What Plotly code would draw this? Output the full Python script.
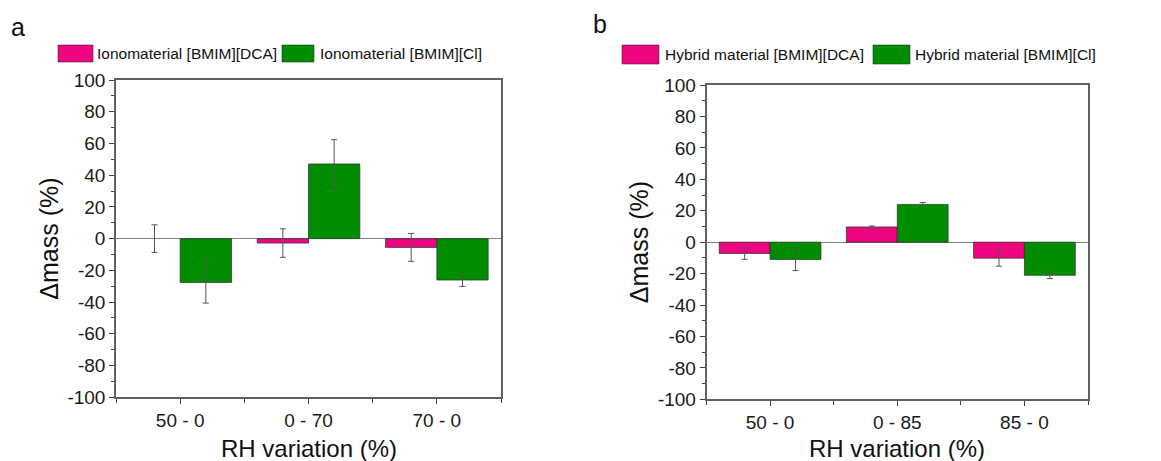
import plotly.graph_objects as go

# ---- data ----
categories_a = ["50 - 0", "0 - 70", "70 - 0"]
categories_b = ["50 - 0", "0 - 85", "85 - 0"]

series_a_names = ["Ionomaterial [BMIM][DCA]", "Ionomaterial [BMIM][Cl]"]
dca_a = [0.0, -2.8, -5.5]
dca_a_err = [8.7, 9.0, 8.8]
cl_a = [-27.6, 47.1, -26.1]
cl_a_err = [13.0, 15.3, 4.0]

series_b_names = ["Hybrid material [BMIM][DCA]", "Hybrid material [BMIM][Cl]"]
dca_b = [-7.2, 9.7, -10.2]
dca_b_err = [3.7, 0.6, 5.1]
cl_b = [-11.0, 24.0, -21.1]
cl_b_err = [7.1, 1.2, 2.1]

y_ticks = [-100, -80, -60, -40, -20, 0, 20, 40, 60, 80, 100]

PINK = "#EE0582"
GREEN = "#008E00"
FONT = "Liberation Sans, Arial, sans-serif"
W, H = 1161, 461
OFF = 8  # page body margin offset

fig = go.Figure()

def add_bars(xref, yref, cats, vals, errs, name, color):
    fig.add_trace(go.Bar(
        x=list(range(len(cats))), y=vals, name=name,
        marker=dict(color=color,
                    line=dict(color="rgba(40,40,40,0.85)",
                              width=[0 if v == 0 else 0.8 for v in vals])),
        error_y=dict(type="data", array=errs, visible=True, color="#555555", thickness=1, width=3),
        xaxis=xref, yaxis=yref, showlegend=False,
    ))

add_bars("x", "y", categories_a, dca_a, dca_a_err, series_a_names[0], PINK)
add_bars("x", "y", categories_a, cl_a, cl_a_err, series_a_names[1], GREEN)
add_bars("x2", "y2", categories_b, dca_b, dca_b_err, series_b_names[0], PINK)
add_bars("x2", "y2", categories_b, cl_b, cl_b_err, series_b_names[1], GREEN)

def px_x(p):
    return (p - OFF) / W

def px_y(p):
    return 1 - (p - OFF) / H

# plot areas in screen pixels
A = dict(l=116, r=501, t=80, b=397.3)
B = dict(l=706.5, r=1088, t=85, b=399.3)

axis_common = dict(
    showline=True, linecolor="#606060", linewidth=1.5, mirror=True,
    ticks="outside", tickcolor="#404040", ticklen=5, tickwidth=1.2,
    showgrid=False, zeroline=False,
    tickfont=dict(family=FONT, size=19, color="#1a1a1a"),
)

def xaxis(cats, dom, anchor):
    d = dict(axis_common)
    d.update(domain=dom, anchor=anchor, range=[-0.5, len(cats) - 0.5],
             tickmode="array", tickvals=list(range(len(cats))), ticktext=cats,
             tickfont=dict(family=FONT, size=19, color="#1a1a1a"),
             minor=dict(tickmode="array", tickvals=[i - 0.5 for i in range(len(cats) + 1)],
                        ticklen=4, ticks="outside", tickcolor="#404040", tickwidth=1.2))
    return d

def yaxis(dom, anchor):
    d = dict(axis_common)
    d.update(domain=dom, anchor=anchor, range=[-100, 100],
             tickmode="array", tickvals=y_ticks, ticktext=[str(v) for v in y_ticks],
             zeroline=True, zerolinecolor="#808080", zerolinewidth=1,
             minor=dict(dtick=10, ticklen=3, ticks="outside", tickcolor="#404040", tickwidth=1))
    return d

fig.update_layout(
    width=W, height=H,
    margin=dict(l=0, r=0, t=0, b=0, autoexpand=False),
    paper_bgcolor="white", plot_bgcolor="white",
    barmode="group", bargap=0.2, bargroupgap=0,
    showlegend=False,
    font=dict(family=FONT, color="#222222"),
    xaxis=xaxis(categories_a, [px_x(A["l"]), px_x(A["r"])], "y"),
    yaxis=yaxis([px_y(A["b"]), px_y(A["t"])], "x"),
    xaxis2=xaxis(categories_b, [px_x(B["l"]), px_x(B["r"])], "y2"),
    yaxis2=yaxis([px_y(B["b"]), px_y(B["t"])], "x2"),
)

annotations = []
shapes = []

def text(x, y, s, size, xanchor="center", yanchor="middle", angle=0):
    annotations.append(dict(x=px_x(x), y=px_y(y), xref="paper", yref="paper", text=s,
                            showarrow=False, xanchor=xanchor, yanchor=yanchor, textangle=angle,
                            font=dict(family=FONT, size=size, color="#111111")))

# panel letters
text(18, 27, "a", 25)
text(600, 24, "b", 25)

# axis titles
for P in (A, B):
    text((P["l"] + P["r"]) / 2, 448, "RH variation (%)", 24)
text(49, (A["t"] + A["b"]) / 2, "Δmass (%)", 25, angle=-90)
text(639, (B["t"] + B["b"]) / 2, "Δmass (%)", 25, angle=-90)

# legends (swatch rectangles + labels)
def legend_item(x0, x1, y0, y1, color, label, tx):
    shapes.append(dict(type="rect", xref="paper", yref="paper",
                       x0=px_x(x0), x1=px_x(x1), y0=px_y(y1), y1=px_y(y0),
                       fillcolor=color, line=dict(color="rgba(40,40,40,0.7)", width=0.8)))
    text(tx, (y0 + y1) / 2, label, 15.5, xanchor="left")

legend_item(58, 93, 45, 62, PINK, series_a_names[0], 95)
legend_item(282, 314, 45, 62, GREEN, series_a_names[1], 318)
legend_item(622, 659, 45, 64, PINK, series_b_names[0], 663)
legend_item(873, 910, 45, 64, GREEN, series_b_names[1], 913)

fig.update_layout(annotations=annotations, shapes=shapes)

fig.write_html("out.html")
